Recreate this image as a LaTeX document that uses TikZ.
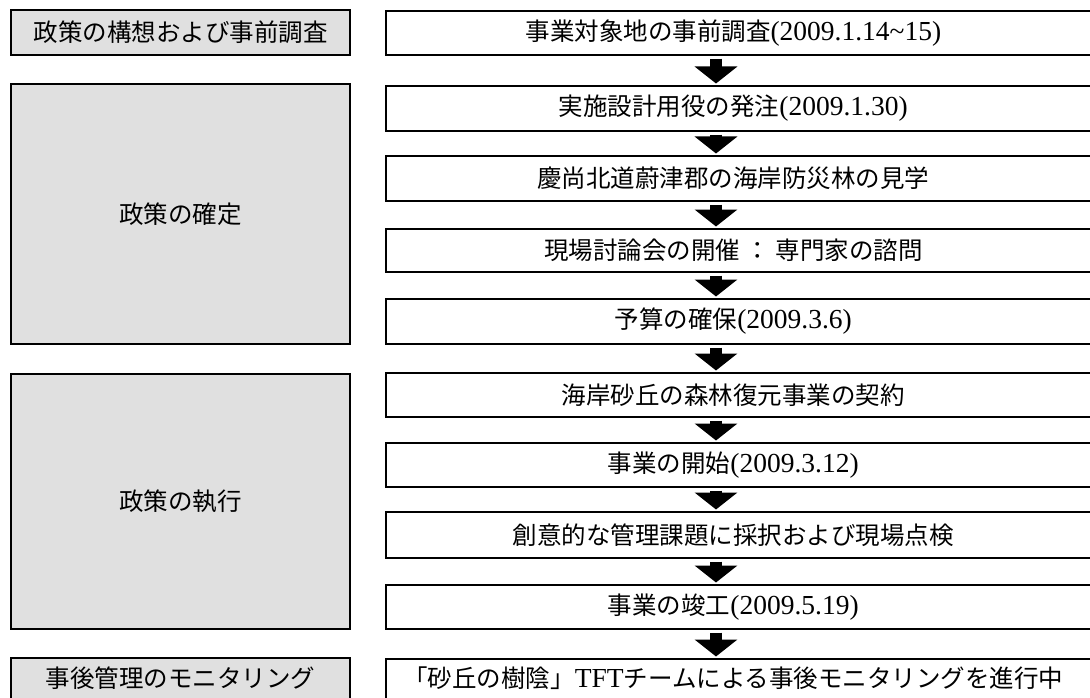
\documentclass[tikz,border=0pt]{standalone}
\usepackage{fontspec}
\setmainfont{Noto Sans CJK JP}
\newfontfamily\latf{Liberation Serif}
\newcommand\lat{\latf\fontsize{27.5}{28}\selectfont}
\usetikzlibrary{arrows.meta,calc}
\tikzset{
  lbox/.style={draw=black, line width=2.2pt, fill=black!12, anchor=north west, minimum width=339pt, inner sep=0pt},
  rbox/.style={draw=black, line width=1.7pt, fill=white, anchor=north west, minimum width=707pt, inner sep=0pt},
  txt/.style={font=\fontsize{24.5}{28}\selectfont, inner sep=0pt},
  flow/.style={line width=12pt, -{Triangle[width=42pt,length=17pt]}},
}
\begin{document}
\begin{tikzpicture}[x=1pt,y=-1pt]
\useasboundingbox (0,0) rectangle (1090,698);
\clip (0,0) rectangle (1090,698);
\fill[white] (0,0) rectangle (1090,698);
\coordinate (ax) at (716,0);
% left column
\node[lbox, minimum height=45pt] (L1) at (10,9) {};
\node[lbox, minimum height=260pt] (L2) at (10,83) {};
\node[lbox, minimum height=255pt] (L3) at (10,373) {};
\node[lbox, minimum height=50pt] (L4) at (10,657) {};
\node[txt] (lt1) at (L1.center) {政策の構想および事前調査};
\node[txt] (lt2) at (L2.center) {政策の確定};
\node[txt] (lt3) at (L3.center) {政策の執行};
\node[txt] (lt4) at ($(L4.north)+(0,21)$) {事後管理のモニタリング};
% right column
\node[rbox, minimum height=44pt] (r1) at (385,10) {};
\node[rbox, minimum height=45pt] (r2) at (385,85) {};
\node[rbox, minimum height=45pt] (r3) at (385,155) {};
\node[rbox, minimum height=43pt] (r4) at (385,228) {};
\node[rbox, minimum height=45pt] (r5) at (385,298) {};
\node[rbox, minimum height=44pt] (r6) at (385,372) {};
\node[rbox, minimum height=44pt] (r7) at (385,442) {};
\node[rbox, minimum height=46pt] (r8) at (385,511) {};
\node[rbox, minimum height=44pt] (r9) at (385,584) {};
\node[rbox, minimum height=50pt] (r10) at (385,658) {};
\node[txt] (t1) at ($(r1.center)+(-6,0)$) {事業対象地の事前調査{\lat(2009.1.14\textasciitilde15)}};
\node[txt] (t2) at ($(r2.center)+(-6,0)$) {実施設計用役の発注{\lat(2009.1.30)}};
\node[txt] (t3) at ($(r3.center)+(-6,0)$) {慶尚北道蔚津郡の海岸防災林の見学};
\node[txt] (t4) at ($(r4.center)+(-6,0)$) {現場討論会の開催 ： 専門家の諮問};
\node[txt] (t5) at ($(r5.center)+(-6,0)$) {予算の確保{\lat(2009.3.6)}};
\node[txt] (t6) at ($(r6.center)+(-6,0)$) {海岸砂丘の森林復元事業の契約};
\node[txt] (t7) at ($(r7.center)+(-6,0)$) {事業の開始{\lat(2009.3.12)}};
\node[txt] (t8) at ($(r8.center)+(-6,0)$) {創意的な管理課題に採択および現場点検};
\node[txt] (t9) at ($(r9.center)+(-6,0)$) {事業の竣工{\lat(2009.5.19)}};
\node[txt] (t10) at ($(r10.north)+(-6,20)$) {「砂丘の樹陰」{\lat TFT}チームによる事後モニタリングを進行中};
% arrows
\foreach \a/\b in {r1/r2,r2/r3,r3/r4,r4/r5,r5/r6,r6/r7,r7/r8,r8/r9,r9/r10}{
  \draw[flow] ($(\a.south -| ax)+(0,3)$) -- ($(\b.north -| ax)+(0,-1.5)$);
}
\end{tikzpicture}
\end{document}
